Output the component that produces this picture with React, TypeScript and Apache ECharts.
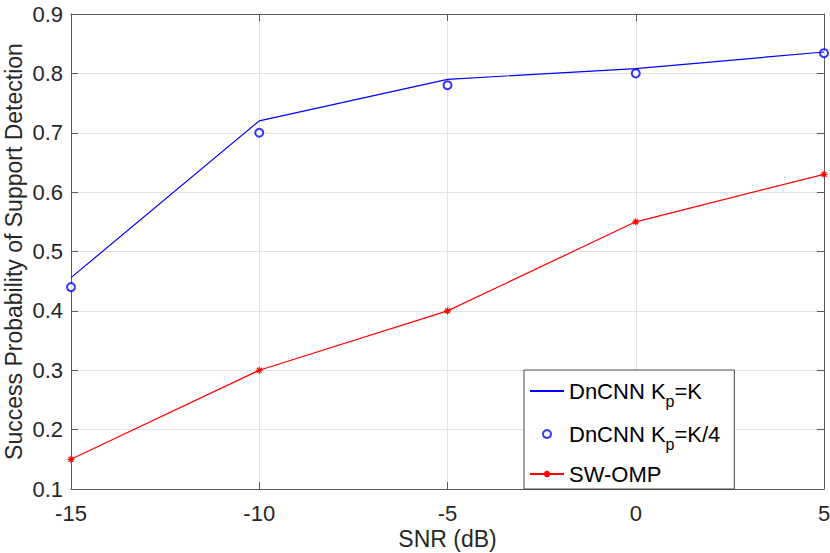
import React, { useEffect, useRef } from "react";
import * as echarts from "echarts";

const snr = [-15, -10, -5, 0, 5];
const dncnnK = [0.456, 0.72, 0.79, 0.808, 0.836];
const dncnnK4 = [0.44, 0.7, 0.78, 0.8, 0.834];
const swOmp = [0.15, 0.3, 0.4, 0.55, 0.63];
const xTicks = { min: -15, max: 5, interval: 5 };
const yTicks = { min: 0.1, max: 0.9, interval: 0.1 };
const seriesNames = ["DnCNN Kp=K", "DnCNN Kp=K/4", "SW-OMP"];
const legendLabels: Record<string, string> = {
  "DnCNN Kp=K": "{m|DnCNN K}{s|p}{m|=K}",
  "DnCNN Kp=K/4": "{m|DnCNN K}{s|p}{m|=K/4}",
  "SW-OMP": "{m|SW-OMP}",
};

const FONT = "'Liberation Sans', Arial, Helvetica, sans-serif";
const AXIS = "#5a5a5a";
const TXT = "#262626";
const HIDE = "rgba(0,0,0,0)";

export default function App() {
  const ref = useRef<HTMLDivElement>(null);
  useEffect(() => {
    if (!ref.current) return;
    const chart = echarts.init(ref.current, undefined, { renderer: "svg" });
    const pair = (ys: number[]) => snr.map((x, i) => [x, ys[i]]);
    const star =
      "path://M0,5L10,5M5,0L5,10M1.5,1.5L8.5,8.5M8.5,1.5L1.5,8.5";
    const axisLine = { show: true, onZero: false, lineStyle: { color: AXIS, width: 1 } };
    const axisTick = { show: true, inside: true, length: 7, lineStyle: { color: AXIS } };
    chart.setOption({
      animation: false,
      backgroundColor: "#fff",
      textStyle: { fontFamily: FONT },
      grid: {
        left: 71,
        right: 6,
        top: 14,
        bottom: 64,
        containLabel: false,
        outerBoundsMode: "none",
      },
      xAxis: [
        {
          type: "value",
          ...xTicks,
          position: "bottom",
          name: "SNR (dB)",
          nameLocation: "middle",
          nameGap: 38,
          nameMoveOverlap: false,
          nameTextStyle: { fontSize: 23, color: TXT, fontFamily: FONT },
          axisLine,
          axisTick,
          axisLabel: { fontSize: 22, color: TXT, margin: 13, fontFamily: FONT },
          splitLine: { show: true, lineStyle: { color: "#e3e3e3", width: 1 } },
        },
        {
          type: "value",
          ...xTicks,
          position: "top",
          axisLine,
          axisTick,
          axisLabel: { show: false },
          splitLine: { show: false },
        },
      ],
      yAxis: [
        {
          type: "value",
          ...yTicks,
          position: "left",
          name: "Success Probability of Support Detection",
          nameLocation: "middle",
          nameGap: 46,
          nameMoveOverlap: false,
          nameTextStyle: { fontSize: 23, color: TXT, fontFamily: FONT },
          axisLine,
          axisTick,
          axisLabel: { fontSize: 22, color: TXT, margin: 8, fontFamily: FONT },
          splitLine: { show: true, lineStyle: { color: "#e3e3e3", width: 1 } },
        },
        {
          type: "value",
          ...yTicks,
          position: "right",
          axisLine,
          axisTick,
          axisLabel: { show: false },
          splitLine: { show: false },
        },
      ],
      legend: {
        orient: "vertical",
        left: 524,
        top: 370,
        padding: [3, 14, 0, 5],
        itemGap: 7,
        itemWidth: 34,
        itemHeight: 8,
        backgroundColor: "#fff",
        borderColor: "#444",
        borderWidth: 1,
        borderRadius: 0,
        data: [
          {
            name: seriesNames[0],
            itemStyle: { color: HIDE, borderColor: HIDE, borderWidth: 0 },
          },
          seriesNames[1],
          seriesNames[2],
        ],
        formatter: (name: string) => legendLabels[name] || name,
        textStyle: {
          fontSize: 22,
          lineHeight: 30,
          color: "#000",
          fontFamily: FONT,
          rich: {
            m: { fontSize: 22, lineHeight: 30, color: "#000", fontFamily: FONT },
            s: {
              fontSize: 16,
              lineHeight: 30,
              color: "#000",
              fontFamily: FONT,
              padding: [20, 0, 0, 0],
            },
          },
        },
      },
      series: [
        {
          name: seriesNames[0],
          type: "line",
          data: pair(dncnnK),
          symbol: "none",
          lineStyle: { color: "#0000ff", width: 1.2 },
          itemStyle: { color: "#0000ff" },
          clip: false,
        },
        {
          name: seriesNames[1],
          type: "scatter",
          data: pair(dncnnK4),
          symbol: "emptyCircle",
          symbolSize: 8,
          itemStyle: { color: "#0000ff", borderColor: "#0000ff", borderWidth: 1.6 },
          clip: false,
        },
        {
          name: seriesNames[2],
          type: "line",
          data: pair(swOmp),
          symbol: star,
          symbolSize: 7,
          showAllSymbol: true,
          lineStyle: { color: "#ff0000", width: 1.2 },
          itemStyle: { color: "#ff0000", borderColor: "#ff0000", borderWidth: 1.2 },
          clip: false,
        },
      ],
    });
    return () => chart.dispose();
  }, []);
  return (
    <div
      ref={ref}
      style={{ position: "absolute", left: 0, top: 0, width: 830, height: 553 }}
    />
  );
}
